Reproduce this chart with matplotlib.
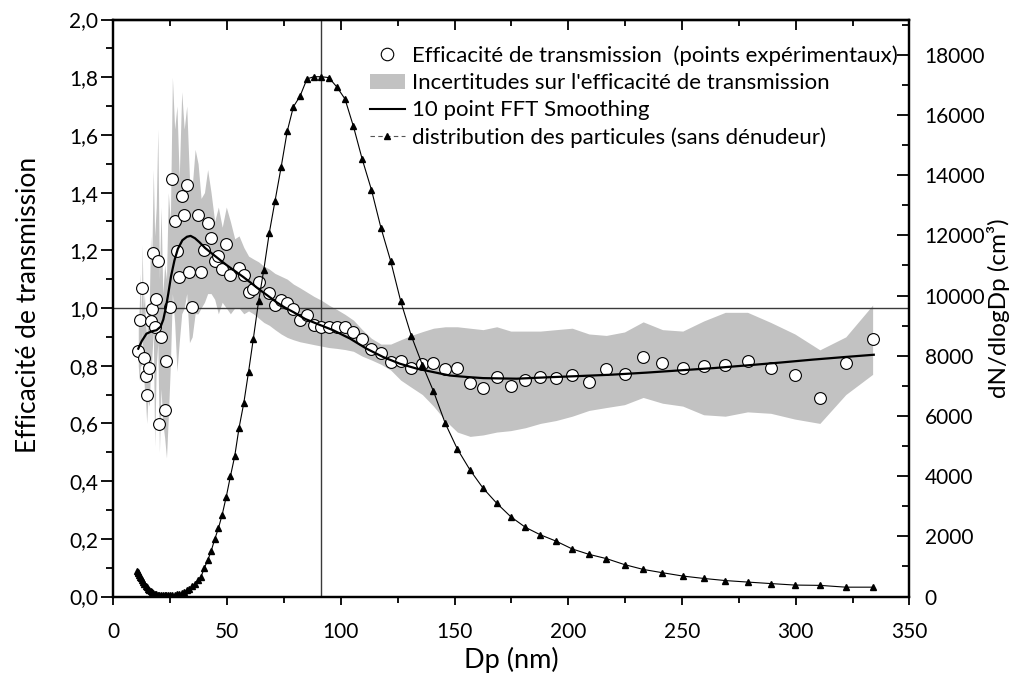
import matplotlib
matplotlib.use('Agg')
import matplotlib.pyplot as plt
from matplotlib.lines import Line2D
from matplotlib.patches import Patch
from matplotlib.ticker import MultipleLocator, FuncFormatter

plt.rcParams['font.family'] = ['Lato', 'DejaVu Sans']

# ---- particle size distribution (SMPS channels, nm) ----
dist_x = [10.2, 10.6, 10.9, 11.3, 11.8, 12.2, 12.6, 13.1, 13.6, 14.1, 14.6, 15.1, 15.7, 16.3, 16.8,
          17.5, 18.1, 18.8, 19.5, 20.2, 20.9, 21.7, 22.5, 23.3, 24.1, 25.0, 25.9, 26.9, 27.9, 28.9,
          30.0, 31.1, 32.2, 33.4, 34.6, 35.9, 37.2, 38.5, 40.0, 41.4, 42.9, 44.5, 46.1, 47.8, 49.6,
          51.4, 53.3, 55.2, 57.3, 59.4, 61.5, 63.8, 66.1, 68.5, 71.0, 73.7, 76.4, 79.1, 82.0, 85.1,
          88.2, 91.4, 94.7, 98.2, 101.8, 105.5, 109.4, 113.4, 117.6, 121.9, 126.3, 131.0, 135.8,
          140.7, 145.9, 151.2, 156.8, 162.5, 168.5, 174.7, 181.1, 187.7, 194.6, 201.7, 209.1, 216.7,
          224.7, 232.9, 241.4, 250.3, 259.5, 269.0, 278.8, 289.0, 299.6, 310.6, 322.0, 333.8]
dist_y = [850, 810, 770, 720, 660, 600, 535, 470, 410, 355, 300, 250, 205, 170, 140,
          112, 90, 72, 58, 48, 40, 36, 35, 35, 38, 42, 50, 60, 72, 90,
          110, 150, 200, 265, 340, 430, 540, 660, 960, 1200, 1500, 1900, 2260, 2720, 3320,
          3990, 4660, 5600, 6430, 7470, 8570, 9810, 10860, 12080, 13130, 14260, 15460, 16270, 16620, 17200,
          17270, 17270, 17240, 16930, 16530, 15620, 14520, 13520, 12250, 11140, 9810, 8650, 7700,
          6820, 5750, 4900, 4200, 3600, 3100, 2650, 2300, 2050, 1840, 1580, 1400, 1260,
          1060, 900, 790, 680, 600, 530, 480, 430, 380, 370, 310, 310]

# ---- transmission efficiency (experimental points) ----
eff_x = [10.9, 11.8, 12.6, 13.6, 14.1, 14.6, 15.7, 16.3, 16.8, 17.5, 18.1, 18.8, 19.5, 20.2, 20.9,
         22.5, 23.3, 25.0, 25.9, 26.9, 27.9, 28.9, 30.0, 31.1, 32.2, 33.4, 34.6, 37.2, 38.5, 40.0,
         41.4, 42.9, 44.5, 46.1, 47.8, 49.6, 51.4, 55.2, 57.3, 59.4, 61.5, 63.8, 68.5, 71.0, 73.7,
         76.4, 79.1, 82.0, 85.1, 88.2, 91.4, 94.7, 98.2, 101.8, 105.5, 109.4, 113.4, 117.6, 121.9,
         126.3, 131.0, 135.8, 140.7, 145.9, 151.2, 156.8, 162.5, 168.5, 174.7, 181.1, 187.7, 194.6,
         201.7, 209.1, 216.7, 224.7, 232.9, 241.4, 250.3, 259.5, 269.0, 278.8, 289.0, 299.6, 310.6,
         322.0, 333.8]
eff_y = [0.850, 0.958, 1.070, 0.827, 0.766, 0.699, 0.792, 0.954, 0.998, 1.190, 0.935, 1.030, 1.163, 0.598, 0.900,
         0.645, 0.818, 1.004, 1.448, 1.302, 1.198, 1.108, 1.390, 1.321, 1.425, 1.126, 1.005, 1.324, 1.126, 1.200,
         1.296, 1.242, 1.162, 1.180, 1.135, 1.222, 1.113, 1.140, 1.113, 1.055, 1.065, 1.090, 1.052, 1.010, 1.027,
         1.019, 0.995, 0.958, 0.975, 0.940, 0.935, 0.935, 0.935, 0.935, 0.917, 0.894, 0.859, 0.845, 0.813,
         0.816, 0.792, 0.807, 0.810, 0.787, 0.792, 0.741, 0.724, 0.762, 0.730, 0.749, 0.760, 0.758,
         0.769, 0.743, 0.787, 0.770, 0.830, 0.809, 0.792, 0.798, 0.801, 0.818, 0.793, 0.769, 0.689,
         0.810, 0.892]

# ---- uncertainty band ----
band_x = [10.9, 11.3, 11.8, 12.2, 12.6, 13.1, 13.6, 14.1, 14.6, 15.1, 15.7, 16.3, 16.8, 17.5, 18.1,
          18.8, 19.5, 20.2, 20.9, 21.7, 22.5, 23.3, 24.1, 25.0, 25.9, 26.9, 27.9, 28.9, 30.0, 31.1,
          32.2, 33.4, 34.6, 35.9, 37.2, 38.5, 40.0, 41.4, 42.9, 44.5, 46.1, 47.8, 49.6, 51.4, 53.3,
          55.2, 57.3, 59.4, 61.5, 63.8, 66.1, 68.5, 71.0, 73.7, 76.4, 79.1, 82.0, 85.1, 88.2, 91.4,
          94.7, 98.2, 101.8, 105.5, 109.4, 113.4, 117.6, 121.9, 126.3, 131.0, 135.8, 140.7, 145.9,
          151.2, 156.8, 162.5, 168.5, 174.7, 181.1, 187.7, 194.6, 201.7, 209.1, 216.7, 224.7, 232.9,
          241.4, 250.3, 259.5, 269.0, 278.8, 289.0, 299.6, 310.6, 322.0, 333.8]
band_hi = [0.93, 1.00, 1.12, 0.95, 1.22, 1.00, 1.05, 0.95, 0.90, 0.98, 1.00, 1.25, 1.15, 1.48, 1.25,
           1.35, 1.62, 1.10, 1.35, 1.05, 1.15, 1.10, 1.40, 1.30, 1.80, 1.62, 1.70, 1.45, 1.75, 1.62,
           1.70, 1.45, 1.42, 1.55, 1.50, 1.38, 1.40, 1.48, 1.40, 1.30, 1.35, 1.28, 1.35, 1.30, 1.24,
           1.25, 1.21, 1.18, 1.17, 1.16, 1.145, 1.135, 1.12, 1.11, 1.10, 1.083, 1.07, 1.055, 1.04, 1.027,
           1.01, 0.995, 0.978, 0.958, 0.925, 0.895, 0.875, 0.875, 0.89, 0.905, 0.918, 0.93, 0.935,
           0.935, 0.93, 0.925, 0.935, 0.92, 0.92, 0.92, 0.925, 0.93, 0.91, 0.905, 0.917, 0.952,
           0.925, 0.92, 0.955, 0.985, 0.985, 0.95, 0.91, 0.855, 0.90, 1.01]
band_lo = [0.80, 0.75, 0.80, 0.80, 0.92, 0.78, 0.72, 0.68, 0.60, 0.68, 0.66, 0.78, 0.82, 0.92, 0.52,
           0.80, 0.88, 0.50, 0.72, 0.60, 0.55, 0.48, 0.62, 0.80, 1.05, 0.95, 0.78, 0.88, 0.98, 1.00,
           1.05, 0.88, 0.90, 0.98, 0.98, 1.00, 1.02, 1.05, 1.05, 1.03, 0.98, 1.02, 1.00, 0.98, 1.00,
           1.00, 0.98, 0.99, 0.98, 0.965, 0.95, 0.94, 0.925, 0.91, 0.898, 0.89, 0.883, 0.878, 0.873, 0.868,
           0.863, 0.86, 0.856, 0.85, 0.833, 0.82, 0.805, 0.785, 0.75, 0.725, 0.70, 0.66, 0.61,
           0.57, 0.555, 0.56, 0.57, 0.575, 0.585, 0.60, 0.61, 0.625, 0.645, 0.655, 0.665, 0.69,
           0.67, 0.66, 0.63, 0.625, 0.64, 0.635, 0.615, 0.60, 0.70, 0.77]

# ---- 10 point FFT smoothing ----
smooth_x = [10.9, 12.4, 14.5, 16.7, 18.9, 20.7, 21.9, 23.0, 24.1, 25.3, 26.8, 28.3, 30.3, 32.3, 33.9,
            35.8, 37.8, 40.3, 43.9, 49.7, 57.0, 60.3, 64.3, 67.8, 71.7, 75.3, 79.3, 84.3, 89.3, 96.6,
            104.0, 111.3, 118.6, 125.9, 133.3, 140.6, 147.9, 155.3, 162.6, 177.3, 191.3, 204.3, 219.3,
            234.3, 249.3, 264.3, 278.3, 293.3, 307.3, 321.3, 334.3]
smooth_y = [0.859, 0.885, 0.911, 0.919, 0.923, 0.935, 0.960, 1.000, 1.050, 1.110, 1.165, 1.205, 1.235, 1.247, 1.250,
            1.242, 1.228, 1.208, 1.185, 1.149, 1.108, 1.088, 1.063, 1.043, 1.020, 1.002, 0.985, 0.962, 0.946, 0.923,
            0.894, 0.859, 0.830, 0.807, 0.790, 0.778, 0.766, 0.761, 0.757, 0.755, 0.760, 0.764, 0.769,
            0.776, 0.784, 0.792, 0.801, 0.811, 0.821, 0.830, 0.838]

ref_dp = 91.1
x_ticks = [0, 50, 100, 150, 200, 250, 300, 350]

fig = plt.figure(figsize=(10.28, 6.90), dpi=100)
ax = fig.add_axes([0.1104, 0.1355, 0.7743, 0.8362])
ax2 = ax.twinx()

band_color = '#c2c2c2'
ax.fill_between(band_x, band_lo, band_hi, color=band_color, lw=0, zorder=1)
ax.axhline(1.0, color='#3a3a3a', lw=1.0, zorder=2)
ax.axvline(ref_dp, color='#3a3a3a', lw=1.0, zorder=2)
ax.plot(eff_x, eff_y, ls='none', marker='o', mfc='white', mec='black', ms=8.5, mew=0.8, zorder=3)
ax.plot(smooth_x, smooth_y, color='black', lw=1.6, zorder=4)

ax2.plot(dist_x, dist_y, color='black', lw=0.8, marker='^', ms=4.2, mec='black', mfc='black')

ax.set_xlim(0, 350)
ax.set_ylim(0, 2.0)
ax2.set_ylim(0, 19170)

ax.set_xticks(x_ticks)
ax.xaxis.set_minor_locator(MultipleLocator(25))
ax.yaxis.set_major_locator(MultipleLocator(0.2))
ax.yaxis.set_minor_locator(MultipleLocator(0.1))
ax.yaxis.set_major_formatter(FuncFormatter(lambda v, p: f"{v:.1f}".replace('.', ',')))
ax2.yaxis.set_major_locator(MultipleLocator(2000))
ax2.yaxis.set_minor_locator(MultipleLocator(1000))
ax2.yaxis.set_major_formatter(FuncFormatter(lambda v, p: f"{int(round(v))}"))

tick_font = 15
ax.tick_params(axis='y', which='major', direction='out', length=9, width=1.3, labelsize=tick_font, pad=2)
ax.tick_params(axis='y', which='minor', direction='out', length=5, width=1.3)
ax.tick_params(axis='x', which='major', direction='out', length=6, width=1.3, labelsize=tick_font, pad=12)
ax.tick_params(axis='x', which='minor', direction='out', length=4, width=1.3)
ax2.tick_params(axis='y', which='major', direction='in', length=9, width=1.3, labelsize=tick_font, pad=11)
ax2.tick_params(axis='y', which='minor', direction='in', length=5, width=1.3)

top = ax.secondary_xaxis('top')
top.set_xticks(x_ticks)
top.xaxis.set_minor_locator(MultipleLocator(25))
top.tick_params(axis='x', which='major', direction='in', length=7, width=1.3, labeltop=False)
top.tick_params(axis='x', which='minor', direction='in', length=4, width=1.3)
top.spines['top'].set_linewidth(1.6)

for a in (ax, ax2):
    for s in a.spines.values():
        s.set_linewidth(1.6)

ax.set_xlabel('Dp (nm)', fontsize=19.5)
ax.set_ylabel('Efficacité de transmission', fontsize=19)
ax2.set_ylabel('dN/dlogDp (cm³)', fontsize=17.5)
ax.xaxis.set_label_coords(0.5, -0.087)
ax.yaxis.set_label_coords(-0.091, 0.505)
ax2.yaxis.set_label_coords(1.098, 0.50)

handles = [
    Line2D([], [], ls='none', marker='o', mfc='white', mec='black', ms=9, mew=0.8),
    Patch(facecolor=band_color, edgecolor='none'),
    Line2D([], [], color='black', lw=1.5),
    Line2D([], [], color='#555555', lw=0.8, ls=(0, (4, 3)), marker='^', ms=4.5, mfc='black', mec='black'),
]
labels = [
    'Efficacité de transmission  (points expérimentaux)',
    "Incertitudes sur l'efficacité de transmission",
    '10 point FFT Smoothing',
    'distribution des particules (sans dénudeur)',
]
leg = ax2.legend(handles, labels, loc='upper left', bbox_to_anchor=(0.322, 0.955), frameon=False,
                 fontsize=16, handlelength=1.58, handletextpad=0.3, labelspacing=0.32,
                 borderaxespad=0, borderpad=0)

fig.savefig('out.png', dpi=100)
